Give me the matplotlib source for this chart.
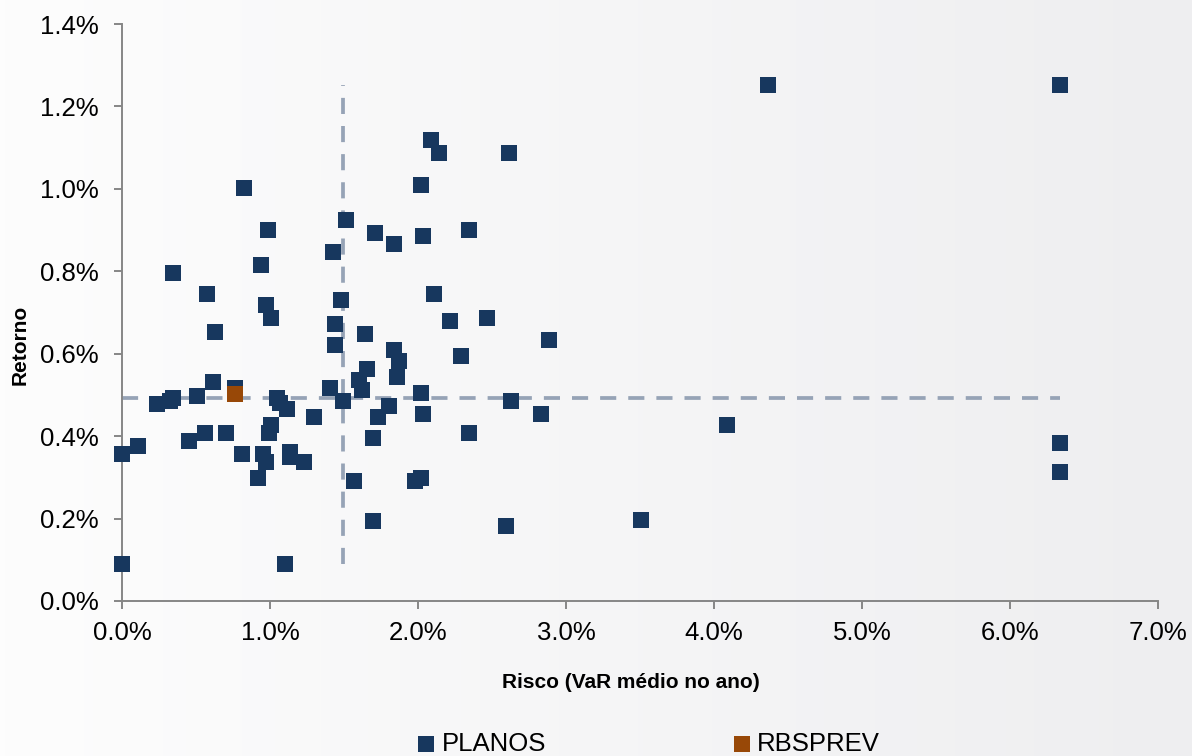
import numpy as np
import matplotlib
matplotlib.use("Agg")
import matplotlib.pyplot as plt
from matplotlib.ticker import FuncFormatter, MultipleLocator

plt.rcParams['font.family'] = ['Liberation Sans', 'DejaVu Sans']

# ---- data (values in %) ----
planos_risco = [0.00, 0.00, 0.108, 0.236, 0.324, 0.345, 0.345, 0.453, 0.507, 0.561,
                0.574, 0.615, 0.628, 0.703, 0.764, 0.811, 0.824, 0.939, 0.953, 0.973,
                0.919, 0.973, 0.986, 1.007, 0.993, 1.007, 1.047, 1.068, 1.115, 1.101,
                1.135, 1.135, 1.23, 1.297, 1.405, 1.426, 1.439, 1.439, 1.480, 1.493,
                1.514, 1.568, 1.601, 1.622, 1.642, 1.655, 1.696, 1.696, 1.709, 1.730,
                1.804, 1.838, 1.838, 1.858, 1.872, 1.98, 2.02, 2.020, 2.020, 2.034,
                2.034, 2.088, 2.108, 2.142, 2.216, 2.291, 2.345, 2.345, 2.466, 2.595,
                2.615, 2.628, 2.831, 2.885, 3.507, 4.088, 4.365, 6.338, 6.338, 6.338]
planos_retorno = [0.357, 0.090, 0.376, 0.478, 0.486, 0.493, 0.796, 0.388, 0.498, 0.408,
                  0.745, 0.532, 0.653, 0.408, 0.517, 0.357, 1.002, 0.816, 0.357, 0.337,
                  0.299, 0.718, 0.900, 0.687, 0.408, 0.427, 0.493, 0.480, 0.466, 0.090,
                  0.362, 0.350, 0.337, 0.447, 0.517, 0.847, 0.672, 0.621, 0.731, 0.486,
                  0.925, 0.291, 0.536, 0.512, 0.648, 0.563, 0.396, 0.194, 0.893, 0.447,
                  0.473, 0.867, 0.609, 0.544, 0.583, 0.291, 0.299, 1.010, 0.505, 0.886,
                  0.454, 1.119, 0.745, 1.087, 0.680, 0.595, 0.900, 0.408, 0.687, 0.182,
                  1.087, 0.486, 0.454, 0.633, 0.197, 0.427, 1.252, 1.252, 0.383, 0.313]
rbsprev_risco = [0.766]
rbsprev_retorno = [0.502]

ref_risco = 1.49      # vertical reference line
ref_retorno = 0.493   # horizontal reference line

series_names = ["PLANOS", "RBSPREV"]
x_ticks = [0, 1, 2, 3, 4, 5, 6, 7]
y_ticks = [0.0, 0.2, 0.4, 0.6, 0.8, 1.0, 1.2, 1.4]

navy = '#17375e'
orange = '#984807'
dash_col = '#96a3b6'
spine_col = '#868686'

W, H = 1192, 756
fig = plt.figure(figsize=(W / 100, H / 100), dpi=100)

# background gradient
bg = fig.add_axes([0, 0, 1, 1], zorder=-10)
grad = np.linspace(0, 1, 256)[None, :]
c0 = np.array([253, 253, 253]) / 255
c1 = np.array([238, 238, 240]) / 255
img = c0[None, None, :] * (1 - grad[..., None]) + c1[None, None, :] * grad[..., None]
bg.imshow(img, aspect='auto', extent=[0, 1, 0, 1])
bg.set_axis_off()

ax = fig.add_axes([122 / W, 1 - 601 / H, (1158 - 122) / W, (601 - 24) / H])
ax.set_facecolor('none')

# reference lines
ax.plot([min(planos_risco), max(planos_risco)], [ref_retorno, ref_retorno],
        color=dash_col, lw=2.7, dashes=(4.3, 3.2), zorder=1, solid_capstyle='butt')
ax.plot([ref_risco, ref_risco], [min(planos_retorno), max(planos_retorno)],
        color=dash_col, lw=2.7, dashes=(4.3, 3.2), zorder=1)

s = 135
sc1 = ax.scatter(planos_risco, planos_retorno, marker='s', s=s, color=navy,
                 linewidths=0, zorder=3, label=series_names[0], clip_on=False)
sc2 = ax.scatter(rbsprev_risco, rbsprev_retorno, marker='s', s=s, color=orange,
                 linewidths=0, zorder=4, label=series_names[1], clip_on=False)

ax.set_xlim(0, 7)
ax.set_ylim(0, 1.4)
ax.set_xticks(x_ticks)
ax.set_yticks(y_ticks)
ax.xaxis.set_major_formatter(FuncFormatter(lambda v, p: f"{v:.1f}%"))
ax.yaxis.set_major_formatter(FuncFormatter(lambda v, p: f"{v:.1f}%"))

for sp in ['top', 'right']:
    ax.spines[sp].set_visible(False)
for sp in ['left', 'bottom']:
    ax.spines[sp].set_color(spine_col)
    ax.spines[sp].set_linewidth(1.4)
    ax.spines[sp].set_zorder(2)
ax.tick_params(axis='both', colors=spine_col, width=1.4, length=5.5,
               labelsize=18.5, labelcolor='black', direction='out')
ax.tick_params(axis='y', pad=11)
ax.tick_params(axis='x', pad=9)

ax.set_xlabel("Risco (VaR médio no ano)", fontsize=15, fontweight='bold', va='center')
ax.xaxis.set_label_coords((631 - 122) / 1036, (601 - 682) / 577)
ax.set_ylabel("Retorno", fontsize=15, fontweight='bold', va='center')
ax.yaxis.set_label_coords((20 - 122) / 1036, (601 - 345) / 577)

fig.legend(handles=[sc1, sc2], labels=series_names, loc='center',
           bbox_to_anchor=(648 / W, 1 - 744 / H), ncol=2, frameon=False,
           fontsize=18.5, handlelength=0.8, handletextpad=0.2,
           columnspacing=7.2, borderpad=0, borderaxespad=0)

fig.savefig("out.png", dpi=100)
